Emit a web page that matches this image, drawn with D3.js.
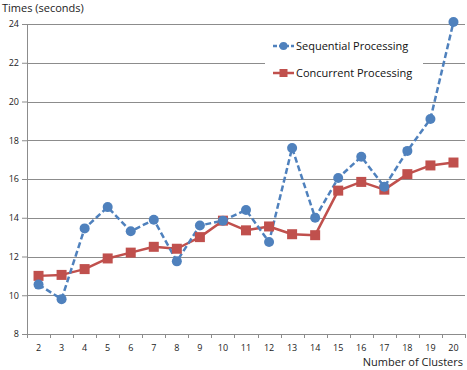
<!DOCTYPE html>
<html>
<head>
<meta charset="utf-8">
<script src="https://cdn.jsdelivr.net/npm/d3@7"></script>
<style>
    body { margin: 0; background: #fff; }
    text { font-family: "Open Sans", "Noto Sans", sans-serif; }
</style>
</head>
<body>
<svg width="467" height="370"></svg>
<script>
var clusters = ["2", "3", "4", "5", "6", "7", "8", "9", "10", "11", "12", "13", "14", "15", "16", "17", "18", "19", "20"],
    sequential = [10.55, 9.8, 13.45, 14.55, 13.3, 13.9, 11.75, 13.6, 13.85, 14.4, 12.75, 17.6, 14.0, 16.05, 17.15, 15.6, 17.45, 19.1, 24.1],
    concurrent = [11.0, 11.05, 11.35, 11.9, 12.2, 12.5, 12.4, 13.0, 13.85, 13.35, 13.55, 13.15, 13.1, 15.4, 15.85, 15.45, 16.25, 16.7, 16.85],
    yTicks = [8, 10, 12, 14, 16, 18, 20, 22, 24];

var svg = d3.select("svg"),
    plotL = 27, plotR = 465, plotT = 24, plotB = 334,
    blue = "#4f81bd", red = "#c0504d", grid = "#8c8c8c";

var x = d3.scaleBand().domain(clusters).range([plotL, plotR]),
    y = d3.scaleLinear().domain([8, 24]).range([plotB, plotT]);

// gridlines
svg.append("g").selectAll("line")
    .data(yTicks.slice(1))
    .enter().append("line")
        .attr("x1", plotL).attr("x2", plotR)
        .attr("y1", function(d) { return Math.round(y(d)) + 0.5; })
        .attr("y2", function(d) { return Math.round(y(d)) + 0.5; })
        .attr("stroke", grid).attr("stroke-width", 1);

// y axis
var yAxis = svg.append("g")
    .attr("transform", "translate(" + plotL + ",0)")
    .call(d3.axisLeft(y).tickValues(yTicks).tickSize(5).tickPadding(3));
yAxis.select(".domain").attr("stroke", grid).attr("d", "M0.5," + plotT + "V" + (plotB + 0.5));
yAxis.selectAll(".tick line").attr("stroke", grid);
yAxis.selectAll("text").attr("fill", "#222").style("font-size", "9px");

// x axis
var xAxis = svg.append("g")
    .attr("transform", "translate(0," + plotB + ")")
    .call(d3.axisBottom(x).tickSize(0).tickPadding(11));
xAxis.select(".domain").attr("stroke", grid).attr("d", "M" + plotL + ",0.5H" + plotR);
xAxis.selectAll("text").attr("fill", "#222").style("font-size", "9px");
xAxis.selectAll(".sep")
    .data(clusters.concat([""]))
    .enter().append("line")
        .attr("class", "sep")
        .attr("x1", function(d, i) { return Math.round(plotL + i * x.step()) + 0.5; })
        .attr("x2", function(d, i) { return Math.round(plotL + i * x.step()) + 0.5; })
        .attr("y1", 0).attr("y2", 4)
        .attr("stroke", grid);

function cx(d, i) { return x(clusters[i]) + x.bandwidth() / 2; }

var line = d3.line()
    .x(cx)
    .y(function(d) { return y(d); });

// concurrent (red, solid)
svg.append("path")
    .datum(concurrent)
    .attr("fill", "none").attr("stroke", red)
    .attr("stroke-width", 2.5).attr("stroke-linejoin", "round")
    .attr("d", line);

// sequential (blue, dashed)
svg.append("path")
    .datum(sequential)
    .attr("fill", "none").attr("stroke", blue)
    .attr("stroke-width", 2.5).attr("stroke-dasharray", "6,3")
    .attr("d", line);

svg.append("g").selectAll("rect")
    .data(concurrent)
    .enter().append("rect")
        .attr("x", function(d, i) { return cx(d, i) - 5; })
        .attr("y", function(d) { return y(d) - 5; })
        .attr("width", 10).attr("height", 10)
        .attr("fill", red);

svg.append("g").selectAll("circle")
    .data(sequential)
    .enter().append("circle")
        .attr("cx", cx)
        .attr("cy", function(d) { return y(d); })
        .attr("r", 5)
        .attr("fill", blue);

// legend
var legend = svg.append("g");
legend.append("rect")
    .attr("x", 265).attr("y", 32).attr("width", 158).attr("height", 56)
    .attr("fill", "#fff");
var items = [
    {name: "Sequential Processing", color: blue, dash: "4,2", shape: "circle"},
    {name: "Concurrent Processing", color: red, dash: null, shape: "rect"}
];
items.forEach(function(it, i) {
    var ly = 46 + i * 27;
    legend.append("line")
        .attr("x1", 273).attr("x2", 294).attr("y1", ly).attr("y2", ly)
        .attr("stroke", it.color).attr("stroke-width", 2.5)
        .attr("stroke-dasharray", it.dash);
    if (it.shape == "circle") {
        legend.append("circle").attr("cx", 283.5).attr("cy", ly).attr("r", 4).attr("fill", it.color);
    } else {
        legend.append("rect").attr("x", 279.5).attr("y", ly - 4).attr("width", 8).attr("height", 8).attr("fill", it.color);
    }
    legend.append("text")
        .attr("x", 296).attr("y", ly + 4)
        .attr("fill", "#111").style("font-size", "11px")
        .text(it.name);
});

// titles
svg.append("text")
    .attr("x", 2).attr("y", 12)
    .attr("fill", "#222").style("font-size", "11px")
    .text("Times (seconds)");
svg.append("text")
    .attr("x", 463).attr("y", 366)
    .attr("text-anchor", "end")
    .attr("fill", "#222").style("font-size", "11px")
    .text("Number of Clusters");
</script>
</body>
</html>
